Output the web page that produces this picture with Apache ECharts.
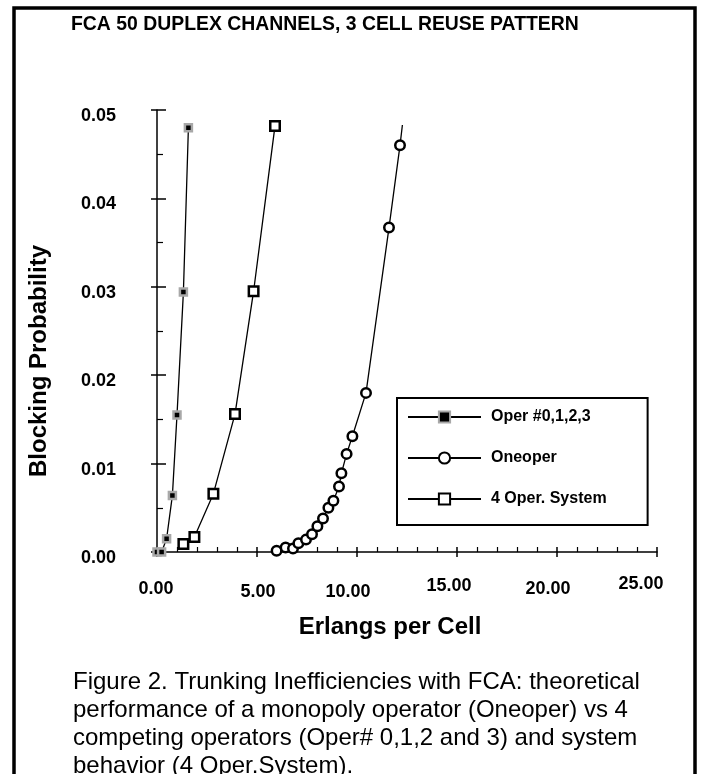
<!DOCTYPE html>
<html style="height: 100%">
   <head>
       <meta charset="utf-8">
   </head>
   <body style="height: 100%; margin: 0; background: #fff">
       <div id="container" style="height: 100%"></div>
       <script type="text/javascript" src="https://cdn.jsdelivr.net/npm/echarts@6.0.0/dist/echarts.min.js"></script>
       <script type="text/javascript">
// Erlangs per cell (x) and blocking probability (y)
var operX = [0.0, 0.23, 0.48, 0.77, 1.0, 1.32, 1.57];
var operY = [0.0, 0.0, 0.0015, 0.0064, 0.0155, 0.0294, 0.0480];

var oneX = [5.98, 6.43, 6.8, 7.07, 7.45, 7.75, 8.02, 8.3, 8.57, 8.82, 9.1, 9.22, 9.48, 9.77, 10.45, 11.6, 12.15, 12.27];
var oneY = [0.00015, 0.0005, 0.0004, 0.001, 0.0014, 0.002, 0.0029, 0.0038, 0.005, 0.0058, 0.0074, 0.0089, 0.0111, 0.0131, 0.018, 0.0367, 0.046, 0.0483];

var sysX = [1.32, 1.87, 2.82, 3.9, 4.83, 5.9];
var sysY = [0.0009, 0.0017, 0.0066, 0.0156, 0.0295, 0.0482];

var seriesNames = ['Oper #0,1,2,3', 'Oneoper', '4 Oper. System'];
var xTicks = [0, 5, 10, 15, 20, 25];
var yTicks = [0, 0.01, 0.02, 0.03, 0.04, 0.05];

var titleText = 'FCA 50 DUPLEX CHANNELS, 3 CELL REUSE PATTERN';
var captionLines = [
    'Figure 2. Trunking Inefficiencies with FCA: theoretical',
    'performance of a monopoly operator (Oneoper) vs 4',
    'competing operators (Oper# 0,1,2 and 3) and system',
    'behavior (4 Oper.System).'
];

var FONT = 'Liberation Sans, Arial, sans-serif';

// the scanned x labels wander a bit around their ticks (px nudges)
var xLabelDx = [-1, 1, -9, -8, -9, -16];
var xLabelDown = [5, 8, 8, 2, 5, 0];

function pairs(xs, ys) {
    var out = [];
    for (var i = 0; i < xs.length; i++) out.push([xs[i], ys[i]]);
    return out;
}

// oneoper curve: the last point only carries the line, no marker
var oneData = pairs(oneX, oneY).map(function (p, i) {
    if (i === oneX.length - 1) return {value: p, symbol: 'none'};
    return p;
});

var labelFont = {fontFamily: FONT, fontSize: 18, fontWeight: 'bold', color: '#000'};

var xRich = {};
xTicks.forEach(function (t, i) {
    var dx = xLabelDx[i];
    xRich['t' + i] = Object.assign({
        padding: [xLabelDown[i], dx < 0 ? -2 * dx : 0, 0, dx > 0 ? 2 * dx : 0]
    }, labelFont);
});

var dom = document.getElementById("container");
var myChart = echarts.init(dom);

var lineStyle = {color: '#000', width: 1.3};

var option = {
    animation: false,
    backgroundColor: '#fff',
    title: [{
        text: titleText,
        left: 71,
        top: 15,
        padding: 0,
        textStyle: {fontFamily: FONT, fontSize: 19.4, fontWeight: 'bold', color: '#000'}
    }, {
        text: captionLines.join('\n'),
        left: 73,
        top: 668,
        padding: 0,
        textStyle: {fontFamily: FONT, fontSize: 24, fontWeight: 'normal', color: '#000', lineHeight: 28}
    }],
    graphic: [{
        type: 'rect',
        shape: {x: 14, y: 8, width: 681, height: 800},
        style: {fill: 'none', stroke: '#000', lineWidth: 3.5},
        silent: true
    }],
    legend: {
        data: seriesNames,
        orient: 'vertical',
        left: 397,
        top: 398,
        itemWidth: 73,
        itemHeight: 14,
        itemGap: 25,
        padding: [11, 41, 18, 10],
        borderColor: '#000',
        borderWidth: 2,
        backgroundColor: '#fff',
        selectedMode: false,
        textStyle: {fontFamily: FONT, fontSize: 16, fontWeight: 'bold', color: '#000', padding: [0, 0, 0, 5]}
    },
    grid: {
        left: 157,
        top: 110,
        right: 44,
        bottom: 222,
        outerBoundsMode: 'none',
        containLabel: false
    },
    xAxis: [{
        type: 'value',
        min: xTicks[0],
        max: xTicks[xTicks.length - 1],
        interval: xTicks[1] - xTicks[0],
        position: 'bottom',
        name: 'Erlangs per Cell',
        nameLocation: 'middle',
        nameGap: 63,
        nameTextStyle: {fontFamily: FONT, fontSize: 24, fontWeight: 'bold', color: '#000', padding: [0, 34, 0, 0]},
        axisLine: {onZero: false, lineStyle: {color: '#000', width: 1.5}},
        axisTick: {inside: true, length: 5, lineStyle: {color: '#000', width: 1.5}},
        minorTick: {show: true, splitNumber: 5, length: 5, lineStyle: {color: '#000', width: 1.2}},
        splitLine: {show: false},
        minorSplitLine: {show: false},
        axisLabel: {
            margin: 23,
            rich: xRich,
            formatter: function (v) {
                var i = xTicks.indexOf(v);
                return '{t' + i + '|' + v.toFixed(2) + '}';
            }
        }
    }, {
        // second copy of the scale only for the tick part below the axis line
        type: 'value',
        min: xTicks[0],
        max: xTicks[xTicks.length - 1],
        interval: xTicks[1] - xTicks[0],
        position: 'bottom',
        axisLine: {show: false, onZero: false},
        axisTick: {inside: false, length: 5, lineStyle: {color: '#000', width: 1.5}},
        axisLabel: {show: false},
        splitLine: {show: false}
    }],
    yAxis: [{
        type: 'value',
        min: yTicks[0],
        max: yTicks[yTicks.length - 1],
        interval: yTicks[1] - yTicks[0],
        position: 'left',
        name: 'Blocking Probability',
        nameLocation: 'middle',
        nameGap: 106,
        nameTextStyle: {fontFamily: FONT, fontSize: 24, fontWeight: 'bold', color: '#000', padding: [0, 60, 0, 0]},
        axisLine: {show: true, onZero: false, lineStyle: {color: '#000', width: 1.5}},
        axisTick: {show: true, inside: true, length: 9, lineStyle: {color: '#000', width: 1.5}},
        minorTick: {show: true, splitNumber: 2, length: 6, lineStyle: {color: '#000', width: 1.2}},
        splitLine: {show: false},
        minorSplitLine: {show: false},
        axisLabel: {
            margin: 41,
            rich: {v: Object.assign({padding: [12, 0, 0, 0]}, labelFont)},
            formatter: function (v) { return '{v|' + v.toFixed(2) + '}'; }
        }
    }, {
        type: 'value',
        min: yTicks[0],
        max: yTicks[yTicks.length - 1],
        interval: yTicks[1] - yTicks[0],
        position: 'left',
        axisLine: {show: false, onZero: false},
        axisTick: {show: true, inside: false, length: 6, lineStyle: {color: '#000', width: 1.5}},
        axisLabel: {show: false},
        splitLine: {show: false}
    }],
    series: [{
        name: seriesNames[0],
        type: 'line',
        clip: false,
        data: pairs(operX, operY),
        symbol: 'rect',
        symbolSize: 7,
        itemStyle: {color: '#000', borderColor: '#a8a8a8', borderWidth: 2.5},
        lineStyle: lineStyle,
        emphasis: {disabled: true},
        z: 4
    }, {
        name: seriesNames[1],
        type: 'line',
        clip: false,
        data: oneData,
        symbol: 'circle',
        symbolSize: 9.5,
        itemStyle: {color: '#fff', borderColor: '#000', borderWidth: 2.5},
        lineStyle: lineStyle,
        emphasis: {disabled: true},
        z: 3
    }, {
        name: seriesNames[2],
        type: 'line',
        clip: false,
        data: pairs(sysX, sysY),
        symbol: 'rect',
        symbolSize: 9.5,
        itemStyle: {color: '#fff', borderColor: '#000', borderWidth: 2.5},
        lineStyle: lineStyle,
        emphasis: {disabled: true},
        z: 2
    }]
};

if (option && typeof option === "object") {
    myChart.setOption(option, true);
}
       </script>
   </body>
</html>
